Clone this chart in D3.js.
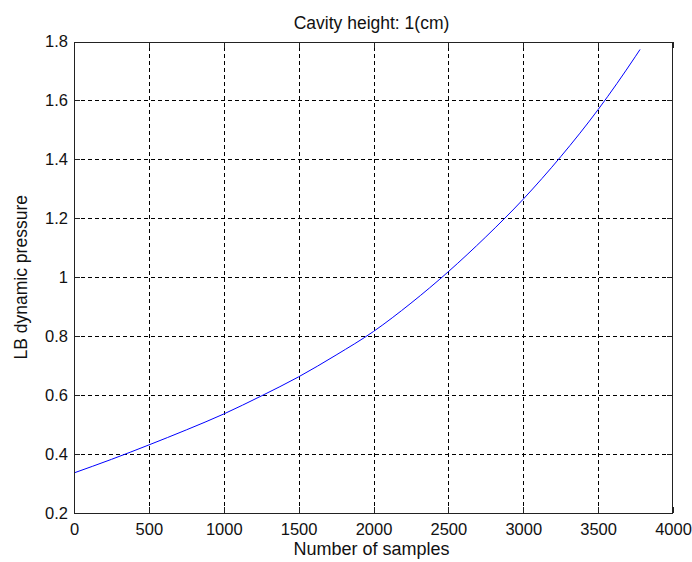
<!DOCTYPE html>
<html>
<head>
<meta charset="utf-8">
<script src="https://cdn.jsdelivr.net/npm/d3@7"></script>
<style>
  html, body { margin: 0; padding: 0; background: #fff; }
  svg { display: block; font-family: "Liberation Sans", Arial, sans-serif; }
</style>
</head>
<body>
<svg id="chart" width="692" height="562"></svg>
<script>
// Pressure at the lower boundary versus sample index
const samples  = [0, 250, 500, 750, 1000, 1250, 1500, 1750, 2000, 2250, 2500, 2750, 3000, 3250, 3500, 3750, 3780];
const pressure = [0.336, 0.382, 0.431, 0.482, 0.536, 0.597, 0.662, 0.736, 0.816, 0.912, 1.019, 1.137, 1.265, 1.409, 1.569, 1.750, 1.773];

const xTicks = [0, 500, 1000, 1500, 2000, 2500, 3000, 3500, 4000];
const yTicks = [0.2, 0.4, 0.6, 0.8, 1, 1.2, 1.4, 1.6, 1.8];

const titleText = "Cavity height: 1(cm)";
const xLabel = "Number of samples";
const yLabel = "LB dynamic pressure";

const svg = d3.select("#chart");
const plotLeft = 74, plotRight = 673, plotTop = 41.5, plotBottom = 513;

const x = d3.scaleLinear().domain([0, 4000]).range([plotLeft, plotRight]);
const y = d3.scaleLinear().domain([0.2, 1.8]).range([plotBottom, plotTop]);

// dashed grid
const grid = svg.append("g")
  .attr("stroke", "#000").attr("stroke-width", 1)
  .attr("stroke-dasharray", "4,3").attr("shape-rendering", "crispEdges");
grid.selectAll("line.v").data(xTicks.slice(1, -1)).join("line")
  .attr("class", "v")
  .attr("x1", d => Math.round(x(d)) + 0.5).attr("x2", d => Math.round(x(d)) + 0.5)
  .attr("y1", plotBottom).attr("y2", plotTop);
grid.selectAll("line.h").data(yTicks.slice(1, -1)).join("line")
  .attr("class", "h")
  .attr("y1", d => Math.round(y(d)) + 0.5).attr("y2", d => Math.round(y(d)) + 0.5)
  .attr("x1", plotLeft).attr("x2", plotRight);

// curve
const line = d3.line()
  .x((d, i) => x(samples[i]))
  .y(d => y(d))
  .curve(d3.curveMonotoneX);
svg.append("path")
  .datum(pressure)
  .attr("fill", "none")
  .attr("stroke", "#0000ff")
  .attr("stroke-width", 1)
  .attr("d", line);

// axes with inward ticks
const tickLen = 6;
const axBottom = svg.append("g").attr("transform", `translate(0,${plotBottom})`)
  .call(d3.axisBottom(x).tickValues(xTicks).tickSizeInner(-tickLen).tickSizeOuter(0).tickPadding(10).tickFormat(d3.format("d")));
const axTop = svg.append("g").attr("transform", `translate(0,${plotTop})`)
  .call(d3.axisTop(x).tickValues(xTicks).tickSizeInner(-tickLen).tickSizeOuter(0).tickFormat(""));
const axLeft = svg.append("g").attr("transform", `translate(${plotLeft},0)`)
  .call(d3.axisLeft(y).tickValues(yTicks).tickSizeInner(-tickLen).tickSizeOuter(0).tickPadding(6).tickFormat(d => d3.format("~g")(d)));
const axRight = svg.append("g").attr("transform", `translate(${plotRight},0)`)
  .call(d3.axisRight(y).tickValues(yTicks).tickSizeInner(-tickLen).tickSizeOuter(0).tickFormat(""));

[axBottom, axTop, axLeft, axRight].forEach(g => {
  g.select(".domain").remove();
  g.selectAll(".tick line").attr("stroke", "#222").attr("shape-rendering", "crispEdges");
  g.selectAll(".tick text").attr("fill", "#111").attr("font-size", 16.5)
    .attr("font-family", "Liberation Sans, Arial, sans-serif");
});

// box
svg.append("rect")
  .attr("x", plotLeft + 0.5).attr("y", Math.round(plotTop) + 0.5)
  .attr("width", plotRight - plotLeft - 1).attr("height", plotBottom - Math.round(plotTop))
  .attr("fill", "none").attr("stroke", "#222").attr("stroke-width", 1.3)
  .attr("shape-rendering", "crispEdges");

// titles
svg.append("text")
  .attr("x", (plotLeft + plotRight) / 2 - 2).attr("y", 29)
  .attr("text-anchor", "middle").attr("font-size", 17.5).attr("fill", "#111")
  .text(titleText);
svg.append("text")
  .attr("x", (plotLeft + plotRight) / 2 - 2).attr("y", 555)
  .attr("text-anchor", "middle").attr("font-size", 18).attr("fill", "#111")
  .text(xLabel);
svg.append("text")
  .attr("transform", `translate(27,${(plotTop + plotBottom) / 2}) rotate(-90)`)
  .attr("text-anchor", "middle").attr("font-size", 17.5).attr("fill", "#111")
  .text(yLabel);
</script>
</body>
</html>
